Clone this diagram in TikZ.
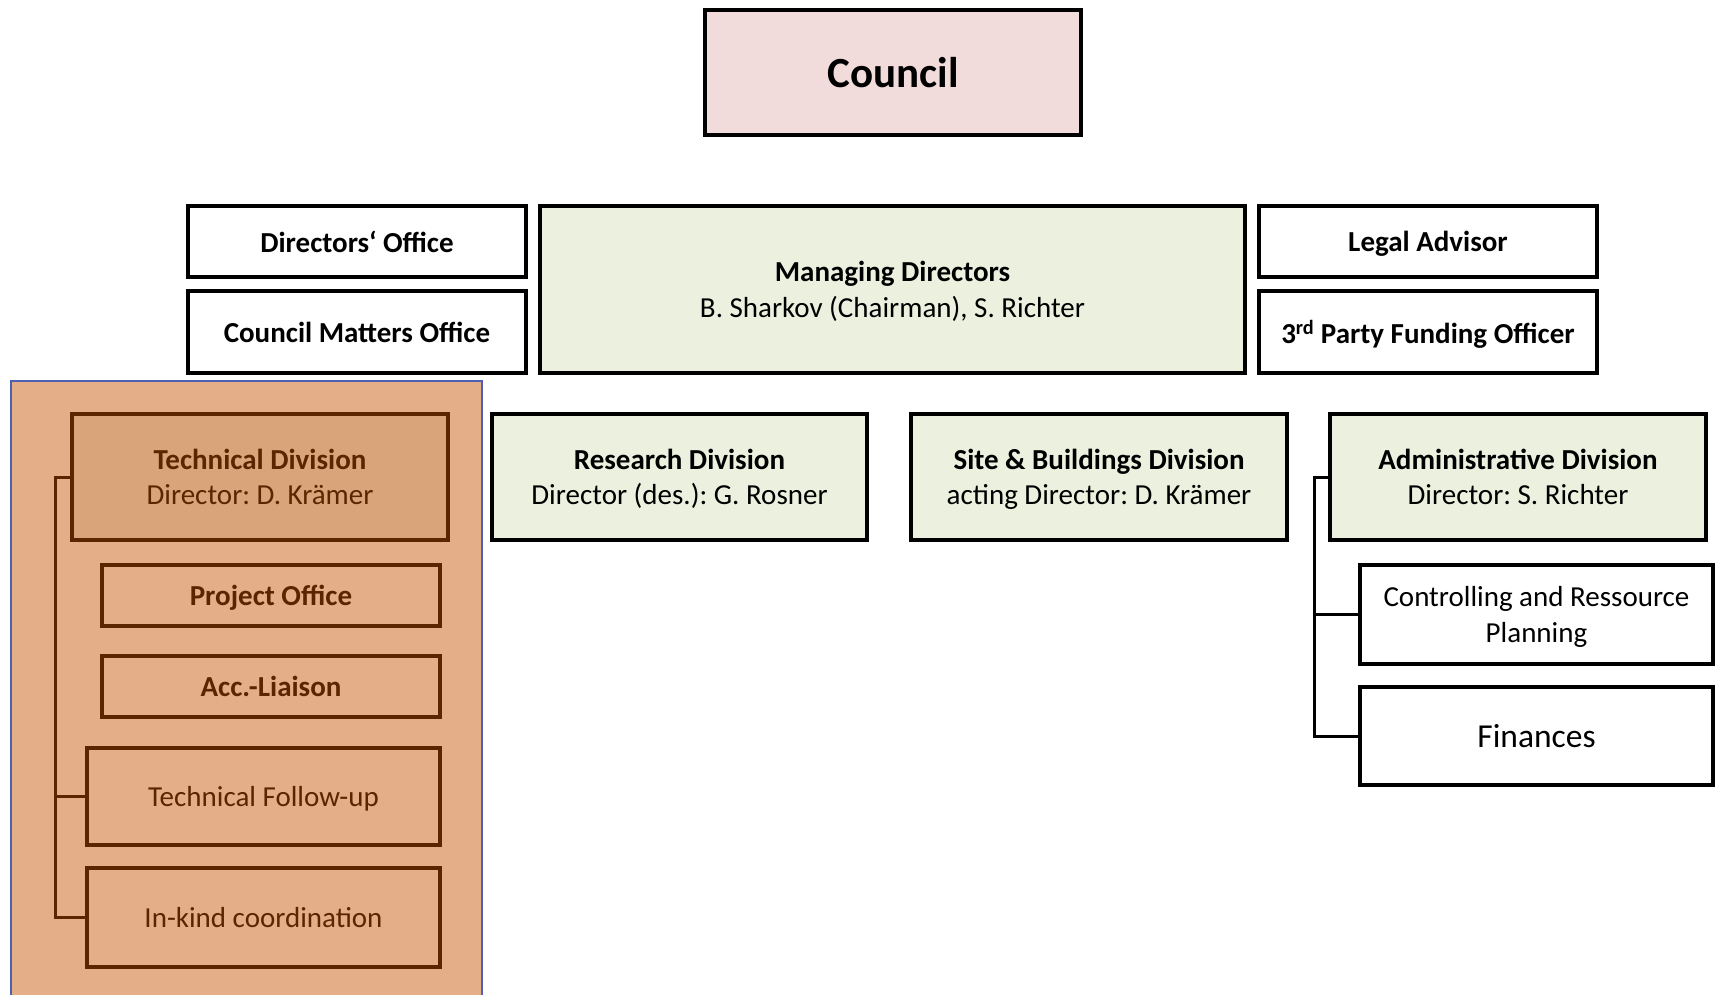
\documentclass[tikz,border=0pt]{standalone}
\usepackage{fontspec}
\setmainfont{Carlito}
\frenchspacing
\definecolor{councilfill}{HTML}{F2DCDB}
\definecolor{greenfill}{HTML}{EBF1DE}
\definecolor{panelfill}{HTML}{E4AE88}
\definecolor{techfill}{HTML}{D9A47A}
\definecolor{brownline}{HTML}{5A2600}
\definecolor{panelborder}{HTML}{5060B0}
\begin{document}
\begin{tikzpicture}[x=1pt,y=-1pt,
  box/.style={draw=black, line width=3.5pt, rectangle, inner sep=0pt, align=center, text depth=0pt, font=\fontsize{29}{35.5}\selectfont},
  gbox/.style={box, fill=greenfill},
  wbox/.style={box, fill=white},
  bbox/.style={box, draw=brownline, text=brownline},
  conn/.style={line width=3pt, black},
  bconn/.style={line width=3pt, brownline}]
\useasboundingbox (0,0) rectangle (1717,995);
% background panel
\path[fill=panelfill, draw=panelborder, line width=1.5pt] (11,1000) -- (11,381) -- (482,381) -- (482,1000);
% top
\node[box, fill=councilfill, minimum width=376, minimum height=125, font=\fontsize{43}{50}\selectfont\bfseries] (council) at (893,72.5) {Council};
\node[wbox, minimum width=338, minimum height=71] (dirof) at (357,241.5) {\textbf{Directors‘ Office}};
\node[wbox, minimum width=338, minimum height=82] (cmo) at (357,332) {\textbf{Council Matters Office}};
\node[gbox, minimum width=705, minimum height=167] (md) at (892.5,289.5) {\textbf{Managing Directors}\\B. Sharkov (Chairman), S. Richter};
\node[wbox, minimum width=338, minimum height=71] (legal) at (1428,241.5) {\textbf{Legal Advisor}};
\node[wbox, minimum width=338, minimum height=82] (third) at (1428,332) {\textbf{3\textsuperscript{rd} Party Funding Officer}};
% divisions
\node[bbox, fill=techfill, minimum width=376, minimum height=126] (tech) at (260,477) {\textbf{Technical Division}\\Director: D. Krämer};
\node[gbox, minimum width=375, minimum height=126] (research) at (679.5,477) {\textbf{Research Division}\\Director (des.): G. Rosner};
\node[gbox, minimum width=376, minimum height=126] (site) at (1099,477) {\textbf{Site \& Buildings Division}\\acting Director: D. Krämer};
\node[gbox, minimum width=376, minimum height=126] (admin) at (1518,477) {\textbf{Administrative Division}\\Director: S. Richter};
% technical sub-units
\node[bbox, minimum width=338, minimum height=61] (proj) at (271,595.5) {\textbf{Project Office}};
\node[bbox, minimum width=338, minimum height=61] (acc) at (271,686.5) {\textbf{Acc.-Liaison}};
\node[bbox, minimum width=353, minimum height=97] (tfu) at (263.5,796.5) {Technical Follow-up};
\node[bbox, minimum width=353, minimum height=99] (ink) at (263.5,917.5) {In-kind coordination};
% admin sub-units
\node[wbox, minimum width=353, minimum height=99] (ctrl) at (1536.5,614.5) {Controlling and Ressource\\Planning};
\node[wbox, minimum width=353, minimum height=98, font=\fontsize{33.5}{40}\selectfont] (fin) at (1536.5,736) {Finances};
% connectors
\coordinate (tt) at (55,477);
\draw[bconn] (tech.west) -- (tt) |- (ink.west);
\draw[bconn] (tt |- tfu.west) -- (tfu.west);
\coordinate (at) at (1314,477);
\draw[conn] (admin.west) -- (at) |- (fin.west);
\draw[conn] (at |- ctrl.west) -- (ctrl.west);
\end{tikzpicture}
\end{document}
